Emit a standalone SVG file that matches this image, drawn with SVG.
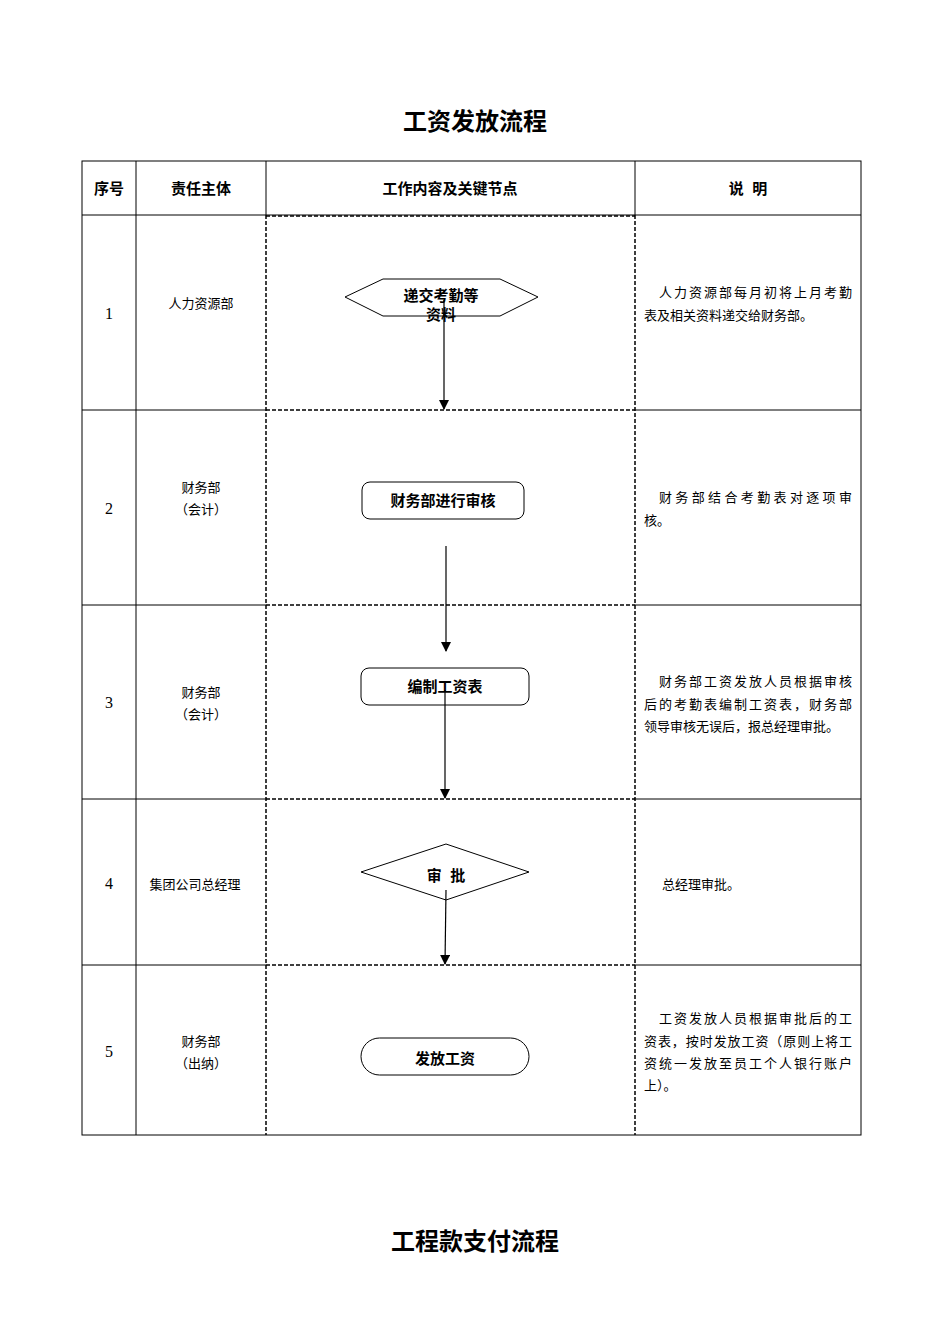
<svg xmlns="http://www.w3.org/2000/svg" width="950" height="1344" viewBox="0 0 950 1344">
<style>
.t{font-family:"Liberation Serif","Noto Sans CJK SC",serif;font-size:13px;fill:#000}
.h{font-family:"Liberation Sans","Noto Sans CJK SC",sans-serif;font-size:15px;font-weight:bold;fill:#000}
.n{font-family:"Liberation Sans","Noto Sans CJK SC",sans-serif;font-size:15px;font-weight:bold;fill:#000;text-anchor:middle}
.ttl{font-family:"Liberation Serif","Noto Sans CJK SC",serif;font-size:24px;font-weight:bold;text-anchor:middle}
.g{stroke:#000;stroke-width:1;fill:none}
.d{stroke:#000;stroke-width:1.5;stroke-dasharray:4,2;fill:none}
.s{stroke:#000;stroke-width:1;fill:#fff}
.c{stroke:#000;stroke-width:1.2;fill:none;marker-end:url(#a)}
.m{text-anchor:middle}
</style>
<defs><marker id="a" markerWidth="10" markerHeight="10" refX="9" refY="5" orient="auto" markerUnits="userSpaceOnUse"><path d="M0,0 L10,5 L0,10Z" fill="#000"/></marker></defs>
<rect width="950" height="1344" fill="#fff"/>
<text class="ttl" x="475" y="130">工资发放流程</text>
<text class="ttl" x="475" y="1250">工程款支付流程</text>
<g id="table">
<rect class="g" x="82" y="161" width="779" height="974"/>
<line class="g" x1="82" y1="215" x2="861" y2="215"/>
<line class="g" x1="136" y1="161" x2="136" y2="1135"/>
<line class="g" x1="266" y1="161" x2="266" y2="215"/>
<line class="g" x1="635" y1="161" x2="635" y2="215"/>
<line class="g" x1="82" y1="410" x2="266" y2="410"/><line class="g" x1="635" y1="410" x2="861" y2="410"/>
<line class="g" x1="82" y1="605" x2="266" y2="605"/><line class="g" x1="635" y1="605" x2="861" y2="605"/>
<line class="g" x1="82" y1="799" x2="266" y2="799"/><line class="g" x1="635" y1="799" x2="861" y2="799"/>
<line class="g" x1="82" y1="965" x2="266" y2="965"/><line class="g" x1="635" y1="965" x2="861" y2="965"/>
<line class="d" x1="266" y1="215" x2="266" y2="1135"/>
<line class="d" x1="635" y1="215" x2="635" y2="1135"/>
<line class="d" x1="266" y1="216" x2="635" y2="216"/>
<line class="d" x1="266" y1="410" x2="635" y2="410"/>
<line class="d" x1="266" y1="605" x2="635" y2="605"/>
<line class="d" x1="266" y1="799" x2="635" y2="799"/>
<line class="d" x1="266" y1="965" x2="635" y2="965"/>
<text class="h m" x="109" y="194">序号</text>
<text class="h m" x="201" y="194">责任主体</text>
<text class="h m" x="450" y="194">工作内容及关键节点</text>
<text class="h m" x="748" y="194" xml:space="preserve">说  明</text>
<g class="t m">
<text x="109" y="319" font-size="16">1</text>
<text x="109" y="514" font-size="16">2</text>
<text x="109" y="708" font-size="16">3</text>
<text x="109" y="889" font-size="16">4</text>
<text x="109" y="1057" font-size="16">5</text>
<text x="201" y="308">人力资源部</text>
<text x="201" y="492">财务部</text><text x="201" y="514">（会计）</text>
<text x="201" y="697">财务部</text><text x="201" y="719">（会计）</text>
<text x="195" y="889">集团公司总经理</text>
<text x="201" y="1046">财务部</text><text x="201" y="1068">（出纳）</text>
</g>
<g class="t">
<text x="659" y="297" textLength="193">人力资源部每月初将上月考勤</text><text x="644" y="320">表及相关资料递交给财务部。</text>
<text x="659" y="502" textLength="193">财务部结合考勤表对逐项审</text><text x="644" y="525">核。</text>
<text x="659" y="686" textLength="193">财务部工资发放人员根据审核</text><text x="644" y="709" textLength="208">后的考勤表编制工资表，财务部</text><text x="644" y="731">领导审核无误后，报总经理审批。</text>
<text x="662" y="889">总经理审批。</text>
<text x="659" y="1023" textLength="193">工资发放人员根据审批后的工</text><text x="644" y="1046" textLength="208">资表，按时发放工资（原则上将工</text><text x="644" y="1068" textLength="208">资统一发放至员工个人银行账户</text><text x="644" y="1090">上）。</text>
</g>
</g>
<g id="n1"><polygon class="s" points="345,297 383,279 500,279 538,297 500,316 383,316"/><text class="n" x="441" y="301">递交考勤等</text><text class="n" x="441" y="320">资料</text></g>
<g id="n2"><rect class="s" x="362" y="482" width="162" height="37" rx="8"/><text class="n" x="443" y="506">财务部进行审核</text></g>
<g id="n3"><rect class="s" x="361" y="668" width="168" height="37" rx="8"/><text class="n" x="445" y="692">编制工资表</text></g>
<g id="n4"><polygon class="s" points="361,872 446,844 529,872 446,900"/><text class="n" x="446" y="881" xml:space="preserve">审  批</text></g>
<g id="n5"><rect class="s" x="361" y="1038" width="168" height="37" rx="18.5"/><text class="n" x="445" y="1064">发放工资</text></g>
<g id="connectors">
<line class="c" x1="444" y1="300" x2="444" y2="409"/>
<line class="c" x1="446" y1="546" x2="446" y2="651"/>
<line class="c" x1="445" y1="690" x2="445" y2="798"/>
<line class="c" x1="446" y1="890" x2="445" y2="964"/>
</g>
</svg>
